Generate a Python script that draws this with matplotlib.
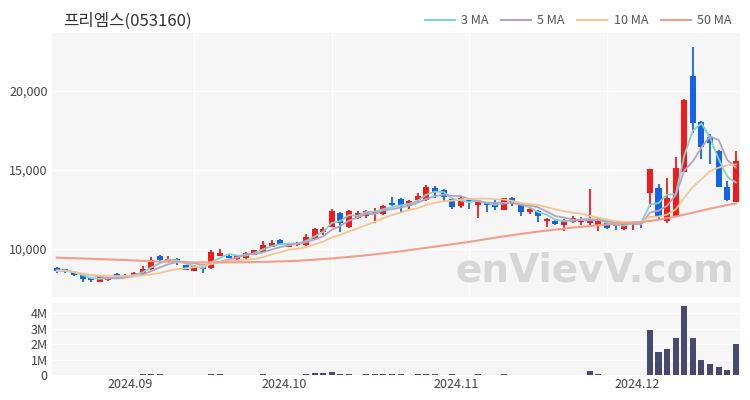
import numpy as np
import pandas as pd
import matplotlib
matplotlib.use('Agg')
import matplotlib.pyplot as plt
from matplotlib.lines import Line2D

plt.rcParams['font.family'] = ['Noto Sans CJK KR', 'DejaVu Sans']

title = '프리엠스(053160)'

# trading days (KRX holidays removed)
holidays = ['2024-09-16', '2024-09-17', '2024-09-18', '2024-10-01', '2024-10-03', '2024-10-09']
dates = pd.bdate_range('2024-08-21', '2024-12-18')
dates = dates[~dates.isin(pd.to_datetime(holidays))]

opens = [8800, 8750, 8540, 8440, 8160, 7910, 8060, 8400, 8210, 8330,
         8420, 8720, 9580, 9180, 9370, 8990, 8610, 8920, 8780, 9580,
         9580, 9350, 9450, 9640, 9810, 10150, 10570, 10150, 10230, 10230,
         10650, 11060, 11410, 12260, 11370, 11980, 12110, 12230, 12200, 12890,
         13150, 12720, 13100, 13100, 13840, 13730, 13150, 12720, 13100, 12800,
         12930, 13000, 12470, 13210, 12790, 12360, 12420, 11790, 11790, 11520,
         11730, 11690, 11670, 11520, 11630, 11580, 11250, 11580, 11730, 13530,
         13840, 11790, 12090, 14890, 20950, 18040, 17070, 16220, 13940, 12990]
highs = [8860, 8760, 8560, 8480, 8180, 8230, 8200, 8450, 8400, 8520,
         8920, 9490, 9600, 9560, 9400, 9000, 8990, 8950, 9940, 9980,
         9660, 9560, 9800, 9950, 10500, 10570, 10650, 10400, 10450, 10950,
         11300, 11370, 12510, 12360, 12450, 12400, 12450, 12580, 12800, 13270,
         13200, 13100, 13560, 14050, 13990, 13780, 13200, 13300, 13150, 13050,
         12980, 13080, 13250, 13260, 12850, 12600, 12450, 11940, 11860, 11900,
         12090, 12030, 13780, 12040, 11650, 11730, 11700, 11760, 11750, 15080,
         14110, 14510, 15800, 19500, 22810, 18100, 17280, 16250, 14320, 16220]
lows = [8480, 8500, 8300, 7930, 7890, 7900, 7950, 8100, 8200, 8300,
        8350, 8700, 9130, 9150, 8970, 8640, 8600, 8460, 8750, 9560,
        9400, 9330, 9320, 9620, 9780, 10130, 10250, 10100, 10200, 10200,
        10600, 10890, 11380, 11100, 11350, 11900, 11950, 11660, 12150, 12700,
        12360, 12530, 13000, 13050, 13210, 13060, 12530, 12610, 12510, 11940,
        12360, 12470, 12450, 12720, 12110, 12210, 11690, 11370, 11540, 11160,
        11630, 11540, 11520, 11160, 11280, 11200, 11230, 11200, 11310, 12680,
        11880, 11670, 12050, 14850, 17360, 15680, 15380, 13900, 13050, 12950]
closes = [8630, 8630, 8350, 8080, 8040, 8210, 8150, 8180, 8370, 8500,
          8710, 9280, 9300, 9390, 9160, 8670, 8940, 8720, 9830, 9770,
          9430, 9540, 9770, 9920, 10230, 10400, 10270, 10360, 10400, 10740,
          11250, 11270, 12420, 11630, 12390, 12260, 12390, 12420, 12740, 12760,
          12760, 13060, 13350, 13900, 13630, 13270, 12680, 13250, 12950, 12980,
          12800, 12640, 13210, 12990, 12360, 12530, 12090, 11880, 11580, 11840,
          11940, 11880, 11880, 11790, 11310, 11460, 11660, 11730, 11630, 15050,
          12050, 13210, 15110, 19430, 17960, 16440, 16690, 13940, 13100, 15570]
volumes = [20000, 15000, 18000, 22000, 15000, 12000, 10000, 18000, 15000, 20000,
           40000, 55000, 35000, 30000, 25000, 20000, 18000, 22000, 60000, 40000,
           25000, 20000, 25000, 30000, 35000, 30000, 25000, 20000, 25000, 50000,
           150000, 100000, 170000, 80000, 45000, 30000, 40000, 35000, 50000, 40000,
           35000, 30000, 35000, 45000, 40000, 30000, 35000, 30000, 30000, 55000,
           30000, 25000, 35000, 25000, 30000, 20000, 25000, 30000, 20000, 25000,
           20000, 25000, 230000, 80000, 30000, 20000, 25000, 20000, 30000, 2940000,
           1490000, 1700000, 2420000, 4460000, 2380000, 970000, 730000, 520000, 350000, 2030000]

# 50 MA (needs history before the visible window)
ma50_idx = [0, 4, 8, 12, 16, 20, 24, 28, 32, 36, 40, 44, 48, 52, 56, 60, 64, 68, 70, 72, 74, 76, 78, 79]
ma50_val = [9450, 9380, 9300, 9200, 9150, 9150, 9180, 9250, 9400, 9600, 9850, 10150,
            10450, 10800, 11100, 11350, 11550, 11700, 11850, 12050, 12300, 12550, 12780, 12880]

o = np.array(opens, dtype=float)
h = np.array(highs, dtype=float)
l = np.array(lows, dtype=float)
c = np.array(closes, dtype=float)
x = np.arange(len(dates))

red = '#f21a1a'
blue = '#1464e6'
col = np.where(c >= o, red, blue)

fig = plt.figure(figsize=(7.5, 4), dpi=100)
ax = fig.add_axes([0.0699, 0.2575, 0.917, 0.66])
axv = fig.add_axes([0.0699, 0.0625, 0.917, 0.18])

for a in (ax, axv):
    a.set_facecolor('#f6f6f6')
    for s in a.spines.values():
        s.set_visible(False)
    a.tick_params(length=0, labelsize=9, colors='#444444')
    a.set_xlim(-0.5, len(x) - 0.5)

ax.vlines(x, l, h, color=col, linewidth=1.3, zorder=3)
body = np.maximum(np.abs(c - o), 60)
ax.bar(x, body, bottom=np.minimum(o, c), width=0.7, color=col, zorder=3)

cs = pd.Series(c)
ax.plot(x, cs.rolling(3, min_periods=1).mean(), color='#7fd3cd', lw=1.3, zorder=4)
ax.plot(x, cs.rolling(5, min_periods=1).mean(), color='#b4a2c8', lw=1.3, zorder=4)
ax.plot(x, cs.rolling(10, min_periods=1).mean(), color='#f4c68f', lw=1.3, zorder=4)
ax.plot(ma50_idx, ma50_val, color='#f39e8a', lw=1.5, zorder=4)

ax.set_ylim(6960, 23670)
ax.set_yticks([10000, 15000, 20000])
ax.set_yticklabels(['10,000', '15,000', '20,000'])
ax.set_xticks([16, 32, 48, 64])
ax.set_xticklabels([])
ax.grid(color='white', lw=1, zorder=0)
ax.set_axisbelow(True)

axv.bar(x, volumes, width=0.7, color='#474a6e', zorder=3)
axv.set_ylim(0, 4.66e6)
axv.set_yticks([0, 1e6, 2e6, 3e6, 4e6])
axv.set_yticklabels(['0', '1M', '2M', '3M', '4M'])
axv.grid(axis='y', color='white', lw=1, zorder=0)
axv.set_axisbelow(True)
months = ['2024-09', '2024-10', '2024-11', '2024-12']
month_pos = [int(np.argmax(dates.strftime('%Y-%m') == m)) + 0.5 for m in months]
axv.set_xticks(month_pos)
axv.set_xticklabels([m.replace('-', '.') for m in months])
axv.tick_params(axis='x', pad=2)

fig.text(63 / 750, 1 - 21 / 400, title, fontsize=12, va='center', color='#333333')
fig.text(0.793, 0.325, 'enVievV.com', fontsize=28, color='#d6d6d6', fontweight='bold',
         ha='center', va='center', family='DejaVu Sans')

handles = [Line2D([], [], color=cc, lw=1.5) for cc in ['#7fd3cd', '#b4a2c8', '#f4c68f', '#f39e8a']]
fig.legend(handles, ['3 MA', '5 MA', '10 MA', '50 MA'], ncol=4, frameon=False,
           loc='center right', bbox_to_anchor=(0.99, 1 - 21 / 400), fontsize=9,
           handlelength=2.4, handletextpad=0.5, columnspacing=1.0, labelcolor='#555555')

fig.savefig('out.png', dpi=100, facecolor='white')
